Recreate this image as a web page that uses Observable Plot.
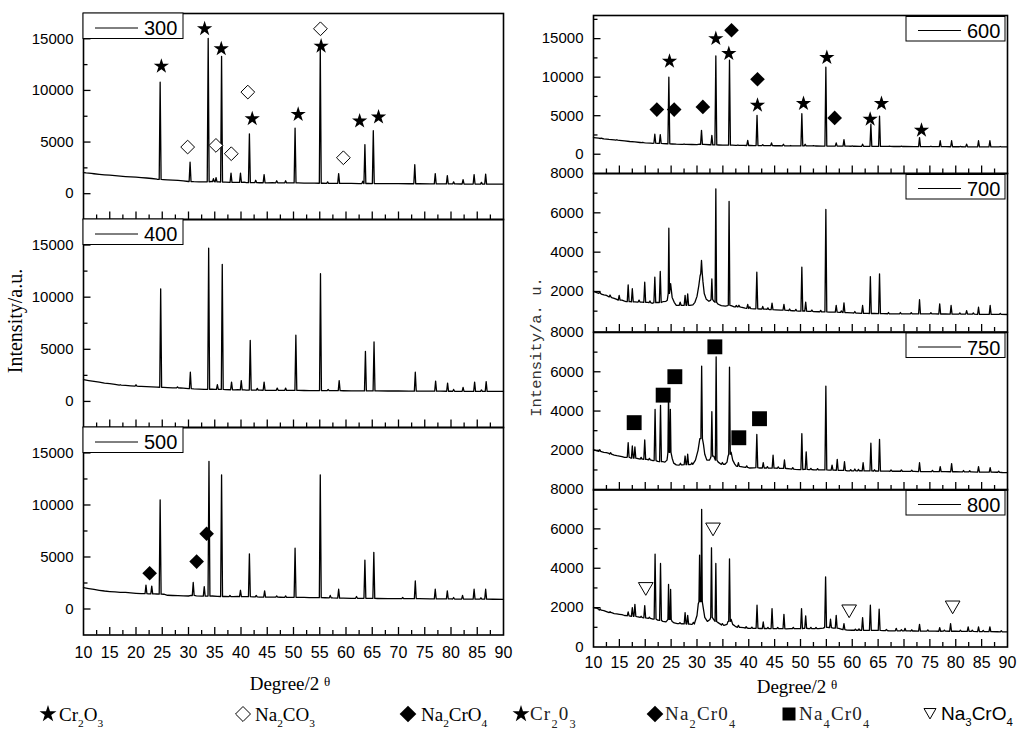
<!DOCTYPE html>
<html><head><meta charset="utf-8">
<script src="https://cdn.jsdelivr.net/npm/d3@7"></script>
<script src="https://cdn.jsdelivr.net/npm/@observablehq/plot@0.6"></script>
<style>
html,body{margin:0;padding:0;background:#fff;}
#wrap{position:relative;width:1024px;height:739px;overflow:hidden;background:#fff;}
#wrap svg{position:absolute;}
</style></head>
<body><div id="wrap"></div>
<script>
// ---------- tick values ----------
const xLabels = [10,15,20,25,30,35,40,45,50,55,60,65,70,75,80,85,90];
const xMajor = [15,20,25,30,35,40,45,50,55,60,65,70,75,80,85];
const xMinor = [12.5,17.5,22.5,27.5,32.5,37.5,42.5,47.5,52.5,57.5,62.5,67.5,72.5,77.5,82.5,87.5];
const yLabL = [0,5000,10000,15000];
const yMinL = [2500,7500,12500];
const yMin600 = [2500,7500,12500,17500];
const yLab7 = [2000,4000,6000,8000];
const yLab8 = [0,2000,4000,6000,8000];
const yMaj7 = [2000,4000,6000];
const yMin7 = [1000,3000,5000,7000];

// ---------- 300 ----------
const base300 = [[10,2050],[10.5,2010],[11,1990],[11.5,1960],[12,1930],[13,1880],[14,1830],[15,1790],[16,1740],[17,1700],[18,1660],[19,1630],[20,1600],[21,1560],[22,1520],[23,1470],[24,1400],[25.2,1370],[26,1340],[27,1310],[28,1280],[29,1240],[30,1180],[31,1160],[32,1150],[33,1150],[34.3,1180],[35.8,1150],[37,1120],[38.7,1100],[39.3,1090],[40.6,1110],[41,1070],[42.3,1080],[43.5,1060],[45,1050],[46,1060],[47.5,1040],[49,1050],[50.9,1040],[52,1030],[53,1030],[54,1020],[55.6,1010],[57,1000],[58,1000],[59.5,990],[61,990],[62.5,980],[64.3,990],[66,980],[68,975],[70,970],[72,960],[74,960],[76,955],[78,950],[80,945],[82,940],[84,935],[86,930],[88,925],[90,920]];
const peaks300 = [[24.6,10800,1380],[30.3,3050,1180],[33.75,15050,1150],[34.75,1450,1160],[35.25,1550,1150],[36.3,13300,1130],[38.1,2000,1100],[39.9,2000,1090],[41.6,5800,1070],[42.8,1300,1070],[44.4,1850,1060],[46.8,1250,1050],[48.5,1250,1045],[50.3,6350,1040],[55.1,14200,1010],[56.5,1150,1005],[58.6,1950,995],[63.2,1200,985],[63.6,4750,985],[65.2,6100,980],[73.1,2800,960],[77.0,1950,950],[79.3,1750,948],[80.5,1150,945],[82.3,1350,940],[84.4,1850,935],[85.8,1100,930],[86.6,1900,930]];
const stars300 = [[24.83,12350],[33.07,15970],[36.24,14030],[42.14,7260],[50.89,7680],[55.26,14290],[62.6,7030],[66.2,7420]];
const openDiamonds300 = [[29.84,4516],[35.23,4677],[38.15,3870],[41.3,9840],[55.13,15970],[59.5,3480]];

// ---------- 400 ----------
const base400 = [[10,2090],[11,2000],[12,1920],[13,1850],[14,1760],[15,1700],[16,1640],[17,1560],[18,1540],[19,1500],[20.6,1450],[21,1440],[22,1420],[23,1400],[24,1370],[25.3,1350],[26,1330],[27,1310],[28.5,1290],[29,1270],[30,1220],[31,1200],[32,1180],[33,1160],[34.5,1190],[35,1160],[37,1130],[38.8,1110],[39.4,1120],[40.6,1100],[41,1090],[42.5,1080],[43.6,1080],[45,1070],[46,1070],[47.5,1060],[49,1060],[51,1060],[52,1050],[53,1045],[54,1040],[56,1035],[57,1030],[58,1030],[59.5,1025],[61,1020],[62.5,1015],[64.4,1010],[66,1005],[68,1000],[70,1000],[72,995],[74,990],[76,985],[78,980],[80,975],[82,970],[84,968],[86,965],[88,965],[90,965]];
const peaks400 = [[17.0,1600,1570],[20.0,1600,1460],[24.7,10800,1360],[27.9,1400,1300],[30.35,2800,1220],[33.84,14700,1170],[35.5,1600,1160],[36.43,13150,1150],[38.2,1850,1120],[40.05,2000,1100],[41.76,5850,1090],[43.1,1250,1080],[44.4,1850,1075],[46.9,1280,1065],[48.5,1280,1060],[50.45,6350,1060],[55.14,12250,1040],[56.6,1150,1035],[58.7,2000,1030],[63.7,4800,1010],[65.34,5700,1005],[73.2,2800,990],[77.07,1950,980],[79.35,1750,975],[80.5,1150,972],[82.3,1350,970],[84.5,1850,967],[85.8,1100,965],[86.7,1900,965]];

// ---------- 500 ----------
const base500 = [[10,2050],[11,1960],[12,1880],[13,1800],[14,1730],[15,1680],[16,1640],[17,1600],[18,1600],[19,1550],[20,1510],[21,1480],[22.4,1460],[23.5,1450],[24,1440],[25.3,1420],[26,1320],[27,1300],[28,1290],[29,1260],[30,1250],[30.5,1300],[31.5,1260],[32.5,1230],[34.5,1250],[35.5,1220],[37,1200],[38.5,1190],[39.4,1200],[40.5,1190],[41,1180],[42.3,1170],[43.5,1150],[45,1150],[46,1140],[47.5,1130],[49,1125],[51,1120],[52,1110],[53,1100],[54,1090],[56,1080],[57.5,1060],[59.5,1040],[61,1030],[62.5,1025],[64.4,1020],[66,1010],[68,1005],[70,1000],[72,995],[74,990],[76,980],[78,970],[80,965],[82,955],[84,950],[86,940],[88,935],[90,930]];
const peaks500 = [[21.9,2300,1470],[23.0,2200,1450],[24.6,10500,1430],[30.9,2550,1300],[33.0,2150,1230],[33.9,14200,1240],[36.3,12900,1200],[37.9,1300,1190],[39.9,1800,1190],[41.6,5300,1180],[42.9,1300,1160],[44.5,1750,1150],[46.8,1250,1135],[48.5,1250,1125],[50.3,5850,1120],[55.1,12900,1085],[57.0,1300,1070],[58.6,1900,1050],[62.0,1200,1030],[63.6,4700,1025],[65.3,5450,1015],[70.8,1100,1000],[73.2,2700,990],[77.0,1900,975],[79.3,1750,965],[80.5,1100,962],[82.2,1300,955],[84.4,1900,950],[85.7,1080,945],[86.6,1900,940]];
const diamonds500 = [[22.6,3437],[31.55,4560],[33.45,7230]];

// ---------- 600 ----------
const base600 = [[10,2160],[11,2080],[12,2000],[13,1920],[14,1860],[15,1810],[16,1730],[17,1650],[18,1600],[19,1520],[20,1470],[21,1440],[21.5,1420],[22.4,1420],[23.5,1380],[24.2,1360],[25.2,1330],[26,1300],[27,1290],[28,1270],[29,1260],[30,1250],[30.5,1300],[31.3,1270],[32.4,1230],[34.2,1200],[35,1180],[36.8,1170],[37.5,1150],[39,1140],[40.3,1130],[41,1120],[42.3,1120],[43.5,1110],[45,1100],[46,1100],[47.5,1090],[49,1085],[50.8,1080],[52,1075],[53,1070],[54.3,1060],[55.5,1055],[56.3,1050],[57.5,1045],[59.2,1040],[60.5,1035],[61.5,1030],[62.6,1030],[64.4,1020],[66,1010],[68,1005],[70,1000],[72,990],[74,985],[76,980],[78,975],[80,970],[82,965],[84,960],[86,955],[88,950],[90,950]];
const peaks600 = [[21.85,2600,1430],[22.9,2550,1400],[24.56,10000,1350],[30.87,3100,1280],[32.87,2450,1220],[33.64,12750,1210],[36.28,12200,1170],[39.8,1800,1135],[41.6,5050,1120],[42.7,1250,1115],[44.4,1470,1105],[46.7,1300,1095],[50.26,5250,1080],[50.9,1300,1078],[54.9,11300,1058],[56.9,1470,1048],[58.4,1900,1042],[62.0,1300,1032],[63.6,3900,1025],[65.27,4950,1015],[73.0,2150,988],[77.0,1750,978],[79.2,1750,972],[82.1,1300,965],[84.4,1750,960],[86.6,1750,955]];
const bumps600 = [[11.5,2100,2040],[14.5,1880,1830],[19.5,1550,1495],[27.5,1330,1280],[37.9,1200,1148],[48.1,1130,1088],[52.5,1110,1072],[60.0,1090,1037],[67.2,1060,1007],[69.5,1050,1001],[75.2,1040,983],[80.9,1020,968],[88.6,1000,950]];
const stars600 = [[24.69,12060],[33.64,15000],[36.15,13060],[41.69,6360],[50.58,6570],[55.09,12540],[63.46,4540],[65.65,6570],[73.38,3110]];
const diamonds600 = [[22.24,5790],[25.59,5790],[31.13,6140],[36.67,16080],[41.69,9730],[56.6,4710]];

// ---------- 700 ----------
const base700 = [[10,2000],[10.5,1950],[11,1920],[11.5,1870],[12,1830],[12.5,1800],[13,1740],[13.5,1690],[14,1650],[14.5,1600],[15.5,1560],[16,1510],[16.3,1490],[17.1,1480],[18,1470],[18.5,1460],[19.4,1460],[20.5,1450],[21.3,1400],[22.3,1450],[23.4,1480],[24,1500],[24.25,1550],[24.9,2400],[25.2,1700],[25.6,1450],[26,1300],[26.4,1290],[27.2,1290],[28.6,1290],[29.2,1320],[29.6,1450],[30.0,1750],[30.35,2300],[30.6,2800],[31.15,2500],[31.4,1900],[31.8,1600],[32.3,1500],[32.6,1550],[33.25,1500],[34.1,1350],[34.7,1280],[35.5,1260],[35.9,1280],[36.6,1280],[37.2,1220],[38.5,1200],[39.3,1150],[40.5,1130],[41,1120],[42.2,1110],[43.3,1100],[44,1080],[45.2,1070],[46.2,1050],[47.5,1040],[48.5,1020],[49.6,1000],[50.65,1010],[51.5,990],[52.5,980],[53.5,970],[54.4,960],[55.5,955],[56.3,950],[57.5,940],[59,925],[60,910],[61,900],[62.7,890],[63,885],[64.3,880],[66,870],[68,865],[70,865],[72,862],[74,860],[76,858],[78,855],[80,850],[81,848],[83,845],[85,840],[86,838],[88,835],[90,830]];
const peaks700 = [[14.96,1800,1560],[16.7,2340,1480],[17.5,2140,1470],[19.9,2470,1450],[21.85,2730,1430],[22.9,3020,1440],[24.56,5220,1900,0.12],[26.75,1460,1300],[27.7,1800,1300],[28.2,1880,1300],[30.87,3580,2900,0.15],[32.87,2640,1600,0.15],[33.64,7220,1450,0.15],[36.2,6580,1300,0.15],[38.1,1300,1220],[39.8,1340,1140],[41.56,2980,1120],[42.7,1240,1100],[44.5,1410,1080],[46.8,1340,1050],[50.26,3240,1000],[51.0,1460,1000],[54.9,6170,960],[56.9,1290,950],[58.4,1420,930],[62.0,1290,890],[63.5,2760,880],[65.27,2900,875],[73.0,1580,860],[76.9,1370,855],[79.1,1290,850],[82.1,1030,845],[84.4,1200,840],[86.65,1290,835]];
const bumps700 = [[11.2,1990,1900],[13.2,1820,1720],[18.8,1560,1465],[20.9,1520,1430],[37.6,1290,1215],[40.2,1220,1135],[43.7,1170,1090],[47.9,1110,1030],[49.1,1090,1010],[52.2,1060,985],[53.9,1040,965],[57.9,1010,935],[60.5,980,905],[67.0,930,867],[69.3,930,865],[71.4,925,863],[75.2,920,859],[80.8,910,849],[83.4,905,844],[88.6,890,833]];

// ---------- 750 ----------
const base750 = [[10,2030],[10.5,1990],[11,1960],[11.5,1930],[12,1900],[12.5,1880],[13,1840],[13.5,1800],[14,1760],[14.5,1730],[15,1710],[15.5,1680],[16,1640],[16.4,1640],[17.1,1620],[18.4,1590],[19,1560],[19.5,1550],[20.3,1540],[21,1500],[21.5,1480],[22.4,1440],[23.4,1420],[23.8,1400],[24.2,1500],[24.3,1700],[25.2,1600],[25.5,1350],[26,1260],[26.5,1250],[27.2,1260],[28.6,1270],[29.2,1300],[29.7,1500],[30.2,2000],[30.55,2600],[31.25,2300],[31.5,1800],[31.9,1500],[32.4,1500],[32.6,1600],[33.25,1700],[34.1,1400],[34.6,1300],[35.4,1290],[35.8,1400],[36.0,1700],[36.6,1900],[36.9,1500],[37.3,1300],[37.6,1200],[38.5,1170],[39,1150],[40.2,1100],[41,1110],[42.1,1100],[43.2,1100],[44.2,1095],[45.2,1090],[46,1085],[47.3,1075],[48,1060],[49,1030],[49.8,1020],[50.7,1030],[51.6,1020],[52.5,1010],[53.5,1005],[54.4,1000],[55.5,995],[56.5,988],[57.7,980],[58,978],[59,960],[60,955],[61,958],[61.6,960],[62.6,955],[63,952],[64.2,948],[64.6,948],[66,940],[67,938],[68,935],[69,935],[70,932],[71,930],[72,925],[74,920],[75,915],[76,915],[78,912],[80,910],[81,905],[82,902],[83,900],[85,895],[86,892],[88,885],[89,870],[90,865]];
const peaks750 = [[16.7,2390,1650],[17.5,2220,1600],[18.0,2170,1600],[19.9,2525,1540],[21.9,4085,1480],[22.95,4290,1420],[24.5,5017,1900,0.12],[24.85,4085,1900,0.12],[27.7,1710,1270],[28.2,1800,1270],[30.9,6290,2600,0.15],[32.87,3970,1700,0.15],[33.7,6760,1500,0.15],[36.28,6240,1800,0.15],[38.0,1370,1180],[41.56,2810,1120],[42.8,1370,1100],[44.7,1750,1090],[46.9,1510,1080],[50.26,2850,1020],[51.1,1920,1030],[54.9,5270,1000],[56.1,1250,990],[57.1,1540,985],[58.5,1420,975],[60.5,1050,960],[62.1,1370,955],[63.6,2360,950],[65.27,2560,945],[69.5,1000,935],[73.0,1370,920],[77.0,1170,912],[79.2,1320,910],[84.4,1170,895],[86.65,1120,890]];
const bumps750 = [[11.2,2030,1950],[13.3,1880,1810],[19.2,1640,1555],[20.8,1590,1510],[26.8,1340,1255],[29.0,1360,1290],[34.9,1380,1290],[39.6,1210,1130],[43.6,1170,1098],[45.7,1160,1087],[48.5,1120,1045],[52.0,1080,1015],[53.3,1070,1006],[59.7,1020,956],[61.2,1030,958],[64.3,1010,948],[67.5,1000,936],[71.5,990,928],[75.5,980,915],[81.5,970,904],[82.7,960,901],[88.3,940,880]];
const squares750 = [[17.86,3410],[23.46,4810],[25.72,5750],[33.45,7270],[38.08,2640],[42.08,3610]];

// ---------- 800 ----------
const base800 = [[10,2000],[10.5,1980],[11,1920],[11.5,1880],[12,1850],[12.5,1800],[13,1770],[13.5,1740],[14,1700],[14.5,1680],[15,1660],[15.5,1640],[16,1600],[16.4,1590],[17.1,1570],[18.4,1540],[19,1510],[19.5,1490],[20.3,1470],[21,1440],[21.5,1420],[22.4,1360],[23.4,1300],[24,1280],[24.25,1350],[25.2,1300],[25.6,1220],[26.2,1190],[27,1180],[28.6,1160],[29,1150],[29.5,1200],[30.0,1600],[30.25,2200],[31.2,2000],[31.5,1500],[32,1300],[32.5,1400],[33.2,1400],[34,1250],[34.6,1150],[35.2,1100],[35.8,1150],[36.0,1300],[36.6,1400],[36.9,1150],[37.4,1050],[38.4,1000],[39,980],[40,950],[41,950],[42.2,940],[43.2,940],[44,935],[45,930],[46,930],[47.2,925],[48,930],[49,930],[49.8,935],[50.6,945],[51.5,940],[52.5,935],[53.5,935],[54.4,960],[55.2,1000],[55.5,990],[56.3,960],[57.4,950],[58,900],[59,860],[60,850],[61,850],[61.6,850],[62.6,845],[63,845],[64,845],[64.6,840],[66,830],[67,825],[68,820],[69,820],[70,815],[71,815],[72,812],[74,810],[75,808],[76,805],[78,802],[80,800],[81,795],[82,792],[83,790],[85,785],[86,782],[88,775],[90,765]];
const peaks800 = [[16.7,1780,1580],[17.5,2000,1560],[18.0,2170,1560],[19.9,2100,1480],[21.9,4720,1420],[22.95,4245,1350],[24.5,3175,1400,0.12],[24.9,2920,1400,0.12],[27.7,1750,1170],[28.2,1610,1160],[30.5,4670,2300,0.12],[30.9,6995,2300,0.12],[32.8,5040,1500,0.15],[33.64,4245,1300,0.15],[36.28,4480,1300,0.15],[38.0,1100,1000],[41.6,2120,950],[42.8,1270,940],[44.5,1950,935],[46.8,1660,930],[50.2,1950,930],[51.0,1580,950],[54.85,3565,1000],[55.8,1410,980],[56.9,1610,960],[58.4,1190,880],[62.0,1490,850],[63.5,2120,850],[65.2,1920,840],[68.5,950,820],[70.2,950,815],[73.0,1150,810],[76.9,985,800],[79.0,1190,800],[82.4,1020,790],[84.4,1020,785],[86.6,1020,780]];
const bumps800 = [[11.3,1930,1870],[13.2,1790,1750],[19.2,1560,1500],[20.8,1510,1450],[26.7,1240,1185],[29.3,1250,1170],[34.9,1190,1120],[39.5,1030,965],[40.6,1010,950],[43.7,1000,937],[45.6,990,930],[48.6,1000,930],[52.0,1000,937],[53.0,990,935],[60.6,910,850],[61.3,920,850],[66.6,890,828],[69.5,880,818],[71.5,875,813],[74.6,870,809],[77.8,860,803],[80.9,855,796],[83.2,850,789],[85.3,845,784],[88.8,830,772]];
const triangles800 = [[20.1,3056],[33.1,6080],[59.4,1920],[79.4,2120]];

// ---------- legend ----------
const legendNames = [["Cr","2","O","3"],["Na","2","CO","3"],["Na","2","CrO","4"],["Cr","2","0","3"],["Na","2","Cr0","4"],["Na","4","Cr0","4"],["Na","3","CrO","4"]];
const legendSymbols = ["star","diamondOpen","diamond","star","diamond","square","triangleOpen"];

// ---------- layout ----------
const markerStyle = {
  star: {symbol:"star", r:4.8, fill:"#000", stroke:"none"},
  diamondOpen: {symbol:"diamond2", r:6.2, fill:"#fff", stroke:"#000", strokeWidth:1},
  diamond: {symbol:"diamond2", r:6.6, fill:"#000", stroke:"none"},
  square: {symbol:"square", r:8.4, fill:"#000", stroke:"none"},
  triangleOpen: {symbol:"triangle2", r:7, rotate:180, fill:"#fff", stroke:"#000", strokeWidth:1}
};
const panels = [
  {name:"300", side:"L", top:13, bottom:219, y:[-2500,17450], lab:yLabL, maj:yLabL, min:yMinL, base:base300, peaks:peaks300, marks:[["star",stars300],["diamondOpen",openDiamonds300]]},
  {name:"400", side:"L", top:219, bottom:427, y:[-2500,17450], lab:yLabL, maj:yLabL, min:yMinL, base:base400, peaks:peaks400, marks:[]},
  {name:"500", side:"L", top:427, bottom:634.5, y:[-2500,17450], lab:yLabL, maj:yLabL, min:yMinL, base:base500, peaks:peaks500, marks:[["diamond",diamonds500]], xAxis:true},
  {name:"600", side:"R", top:15, bottom:173, y:[-2500,18000], lab:yLabL, maj:yLabL, min:yMin600, base:base600, peaks:peaks600.concat(bumps600), marks:[["star",stars600],["diamond",diamonds600]]},
  {name:"700", side:"R", top:173, bottom:331.5, y:[-60,8000], lab:yLab7, maj:yMaj7, min:yMin7, base:base700, peaks:peaks700.concat(bumps700), marks:[]},
  {name:"750", side:"R", top:331.5, bottom:489, y:[-20,8000], lab:yLab7, maj:yMaj7, min:yMin7, base:base750, peaks:peaks750.concat(bumps750), marks:[["square",squares750]]},
  {name:"800", side:"R", top:489, bottom:646.5, y:[0,8000], lab:yLab8, maj:yMaj7, min:yMin7, base:base800, peaks:peaks800.concat(bumps800), marks:[["triangleOpen",triangles800]], xAxis:true}
];

function buildLine(base, peaks) {
  const pts = [];
  for (const [x, top, foot, hw = 0.18] of peaks) pts.push([x - hw, foot], [x, top], [x + hw, foot]);
  const inPeak = (x) => peaks.some(([px, , , hw = 0.18]) => Math.abs(x - px) <= hw + 0.05);
  for (const b of base) if (!inPeak(b[0])) pts.push(b);
  return pts.sort((a, b) => a[0] - b[0]);
}

const wrap = document.getElementById("wrap");
const X0 = 10, X1 = 90;
for (const p of panels) {
  const L = p.side === "L";
  const W = L ? 510 : 490, ml = L ? 83 : 63, mr = L ? 7 : 13, left = L ? 0 : 530;
  const fh = p.bottom - p.top, fw = W - ml - mr;
  const mb = p.xAxis ? 32 : 0;
  const y0 = p.y[0], ySpan = p.y[1] - p.y[0], xSpan = X1 - X0;
  const tick = (px) => ySpan * px / fh;
  const tickH = (px) => xSpan * px / fw;
  const marks = [
    Plot.line(buildLine(p.base, p.peaks), {x: d => d[0], y: d => d[1], stroke: "#000", strokeWidth: 1.3}),
    Plot.ruleX(xMajor, {x: d => d, y1: y0, y2: y0 + tick(7.5), stroke: "#000", strokeWidth: 1.3}),
    Plot.ruleX(xMinor, {x: d => d, y1: y0, y2: y0 + tick(4.5), stroke: "#000", strokeWidth: 1.3}),
    Plot.ruleY(p.maj, {y: d => d, x1: X0, x2: X0 + tickH(7.5), stroke: "#000", strokeWidth: 1.3}),
    Plot.ruleY(p.min, {y: d => d, x1: X0, x2: X0 + tickH(4.5), stroke: "#000", strokeWidth: 1.3}),
    Plot.axisY(p.lab, {anchor: "left", tickSize: 0, tickPadding: 10, fontSize: 15, label: null, fill: "#000", tickFormat: d3.format("d")}),
    Plot.frame({stroke: "#000", strokeWidth: 1.6})
  ];
  for (const [kind, data] of p.marks) marks.push(Plot.dot(data, {x: d => d[0], y: d => d[1], ...markerStyle[kind]}));
  if (p.xAxis) marks.push(Plot.axisX(xLabels, {anchor: "bottom", tickSize: 0, tickPadding: L ? 12 : 10, fontSize: 16, label: null, fill: "#000", tickFormat: d3.format("d")}));
  const svg = Plot.plot({
    width: W, height: fh + mb, marginLeft: ml, marginRight: mr, marginTop: 0, marginBottom: mb,
    x: {domain: [X0, X1], axis: p.xAxis ? undefined : null},
    y: {domain: p.y},
    style: "overflow:visible;background:transparent;font-family:'Liberation Sans',Arial,sans-serif;font-size:15px;color:#000;",
    marks
  });
  svg.style.position = "absolute";
  svg.style.left = left + "px";
  svg.style.top = p.top + "px";
  wrap.appendChild(svg);
}

// ---------- overlay: titles, in-panel legends, bottom legend ----------
const ov = d3.create("svg").attr("width", 1024).attr("height", 739)
  .style("position", "absolute").style("left", "0px").style("top", "0px").style("overflow", "visible");
const SERIF = "'Liberation Serif','Times New Roman',serif";
const SANS = "'Liberation Sans',Arial,sans-serif";
const MONO = "'Liberation Mono','Courier New',monospace";

for (const p of panels) {
  const L = p.side === "L";
  const bx = L ? 83 : 906, by = L ? p.top : p.top + 1.5, bw = L ? 100 : 99, bh = L ? 25.5 : 24.5;
  const g = ov.append("g");
  g.append("rect").attr("x", bx).attr("y", by).attr("width", bw).attr("height", bh).attr("fill", "#fff").attr("stroke", "#000").attr("stroke-width", 1);
  const ly = L ? by + 15 : by + 14;
  g.append("line").attr("x1", bx + 12).attr("x2", bx + 55).attr("y1", ly).attr("y2", ly).attr("stroke", "#000").attr("stroke-width", 1);
  g.append("text").attr("x", bx + 61).attr("y", L ? by + 22 : by + 21.5).attr("font-family", SANS).attr("font-size", 20).attr("fill", "#000").text(p.name);
}

ov.append("text").attr("transform", "translate(15,321) rotate(-90)").attr("text-anchor", "middle").attr("dominant-baseline", "central")
  .attr("font-family", SERIF).attr("font-size", 20).attr("fill", "#000").text("Intensity/a.u.");
ov.append("text").attr("transform", "translate(537,347) rotate(-90)").attr("text-anchor", "middle").attr("dominant-baseline", "central")
  .attr("font-family", MONO).attr("font-size", 15.5).attr("fill", "#333").text("Intensity/a. u.");
for (const [cx, by] of [[290, 690], [797, 693]]) {
  const t = ov.append("text").attr("x", cx).attr("y", by).attr("text-anchor", "middle").attr("font-family", SERIF).attr("font-size", 19).attr("fill", "#000");
  t.append("tspan").text("Degree/2 ");
  t.append("tspan").attr("font-size", 13).attr("dy", -4).text("θ");
}

const legendPos = [
  [48,59,SERIF,19,"#000",721,0,0.6,0.3],
  [243,255,SERIF,19,"#000",721,0,0.6,0.3],
  [408,421,SERIF,19,"#000",721,0,0.6,0.3],
  [521,530,SERIF,19,"#222",720,1.2,0.65,0.4],
  [655,665,SERIF,19,"#222",720,1.2,0.65,0.4],
  [789,799,SERIF,19,"#222",720,1.2,0.65,0.4],
  [930,941,SANS,19,"#000",720,0,0.6,0.3]
];
const legendSymbolPath = {
  star: d3.symbol(d3.symbolStar, 89)(),
  diamondOpen: d3.symbol(d3.symbolDiamond2, 143)(),
  diamond: d3.symbol(d3.symbolDiamond2, 178)(),
  square: d3.symbol(d3.symbolSquare, 169)(),
  triangleOpen: d3.symbol(d3.symbolTriangle2, 103)()
};
legendNames.forEach((parts, i) => {
  const [sx, tx, font, size, color, base, ls, sc, drop] = legendPos[i];
  const kind = legendSymbols[i];
  const open = kind.endsWith("Open");
  const sy = kind === "triangleOpen" ? 712 : 714;
  ov.append("path").attr("d", legendSymbolPath[kind])
    .attr("transform", `translate(${sx},${sy})` + (kind === "triangleOpen" ? " rotate(180)" : ""))
    .attr("fill", open ? "#fff" : "#000").attr("stroke", open ? "#000" : "none").attr("stroke-width", 1);
  const t = ov.append("text").attr("x", tx).attr("y", base).attr("font-family", font).attr("font-size", size)
    .attr("fill", color).attr("letter-spacing", ls);
  parts.forEach((s, j) => {
    const sp = t.append("tspan").text(s);
    if (j % 2 === 1) sp.attr("font-size", size * sc).attr("dy", size * drop);
    else if (j > 0) sp.attr("dy", -size * drop);
  });
});
wrap.appendChild(ov.node());
</script></body></html>
